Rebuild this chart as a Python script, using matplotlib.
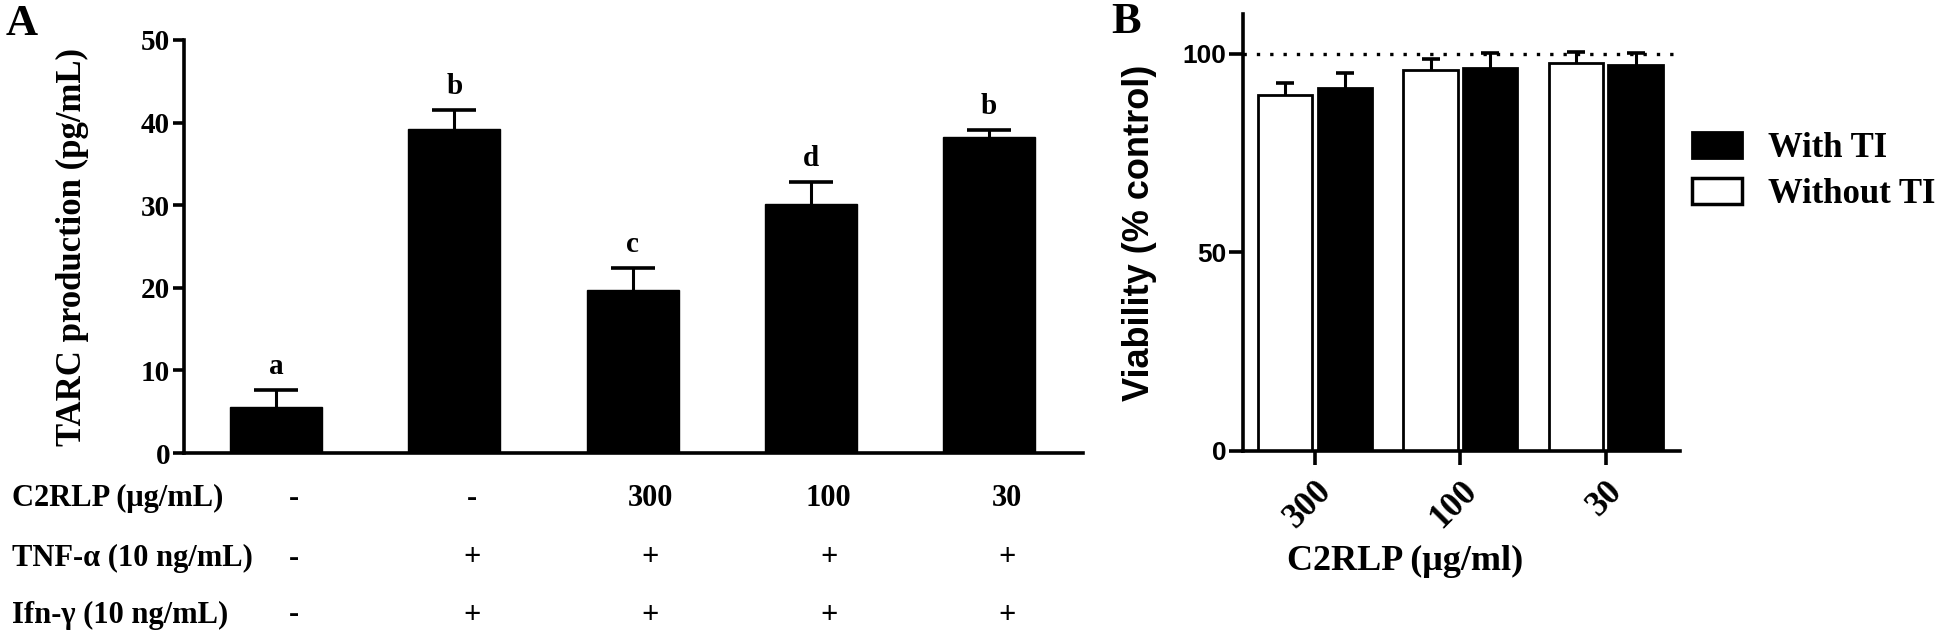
import numpy as np
import matplotlib
matplotlib.use("Agg")
import matplotlib.pyplot as plt
import matplotlib.transforms as mtransforms
from matplotlib.patches import Patch

# panel A data
tarc = [5.6, 39.2, 19.7, 30.2, 38.2]
tarc_err = [2.0, 2.3, 2.7, 2.6, 0.9]
letters = ['a', 'b', 'c', 'd', 'b']
c2rlp_row = ['-', '-', '300', '100', '30']
tnf_row = ['-', '+', '+', '+', '+']
ifn_row = ['-', '+', '+', '+', '+']
row_names = ['C2RLP (\u03bcg/mL)', 'TNF-\u03b1 (10 ng/mL)', 'Ifn-\u03b3 (10 ng/mL)']

# panel B data
conc = ['300', '100', '30']
without_ti = [89.7, 96.0, 97.7]
without_err = [3.0, 2.7, 2.8]
with_ti = [91.4, 96.5, 97.2]
with_err = [3.8, 3.8, 3.0]

serif = 'Liberation Serif'
sans = 'Liberation Sans'
plt.rcParams['font.family'] = [serif, 'DejaVu Serif']
plt.rcParams['font.weight'] = 'bold'

W, H = 1946, 639
fig = plt.figure(figsize=(W / 100, H / 100), dpi=100)


def upper_err(ax, xs, ys, errs, capsize):
    # only the upper half of the error bar, lower cap hidden
    eb = ax.errorbar(xs, ys, yerr=[np.zeros(len(ys)), errs], fmt='none',
                     ecolor='black', elinewidth=2.2, capsize=capsize,
                     capthick=2.6, zorder=1)
    eb[1][0].set_visible(False)


# ---------------- panel A ----------------
axA = fig.add_axes([184 / W, 1 - 453 / H, (1083 - 184) / W, (453 - 40) / H])
x = np.arange(len(tarc))
axA.bar(x, tarc, width=0.516, color='black', edgecolor='black', zorder=2)
upper_err(axA, x, tarc, tarc_err, 16)
for xi, v, e, lab in zip(x, tarc, tarc_err, letters):
    axA.text(xi, v + e + 2.9, lab, ha='center', va='center', fontsize=21,
             fontweight='bold')

axA.set_xlim(-0.516, 4.527)
axA.set_ylim(0, 50)
axA.set_yticks([0, 10, 20, 30, 40, 50])
axA.set_xticks([])
for s in ['top', 'right']:
    axA.spines[s].set_visible(False)
for s in ['left', 'bottom']:
    axA.spines[s].set_linewidth(2.6)
axA.tick_params(axis='y', width=2.6, length=8, labelsize=21, pad=2)
for t in axA.get_yticklabels():
    t.set_fontweight('bold')
axA.set_ylabel('TARC production (pg/mL)', fontsize=25, fontweight='bold')
axA.yaxis.set_label_coords(-0.106, 0.5)

# treatment table under panel A
trans = mtransforms.blended_transform_factory(axA.transData, fig.transFigure)
row_y = [1 - 498 / H, 1 - 558 / H, 1 - 615 / H]
for name, ry, row in zip(row_names, row_y, [c2rlp_row, tnf_row, ifn_row]):
    fig.text(12 / W, ry, name, ha='left', va='center', fontsize=22,
             fontweight='bold')
    for xi, val in zip(x, row):
        axA.text(xi + 0.1, ry, val, transform=trans, ha='center', va='center',
                 fontsize=22, fontweight='bold')

fig.text(6 / W, 1 - 24 / H, 'A', fontsize=32, fontweight='bold', va='center')

# ---------------- panel B ----------------
axB = fig.add_axes([1243 / W, 1 - 451 / H, (1680 - 1243) / W, (451 - 14) / H])
xb = np.arange(len(conc))
bw = 0.375
off = 0.205
axB.bar(xb - off, without_ti, width=bw, color='white', edgecolor='black',
        linewidth=2.0, zorder=2)
axB.bar(xb + off, with_ti, width=bw, color='black', edgecolor='black',
        linewidth=2.0, zorder=2)
upper_err(axB, xb - off, without_ti, without_err, 6.5)
upper_err(axB, xb + off, with_ti, with_err, 6.5)
axB.axhline(100, xmin=0, xmax=0.99, color='black', linewidth=2.4,
            linestyle=(0, (1, 3)), zorder=0)

axB.set_xlim(-0.495, 2.51)
axB.set_ylim(0, 110)
axB.set_yticks([0, 50, 100])
axB.set_xticks(xb)
axB.set_xticklabels(conc, rotation=45, ha='right', rotation_mode='anchor',
                    fontsize=25, fontweight='bold')
for s in ['top', 'right']:
    axB.spines[s].set_visible(False)
for s in ['left', 'bottom']:
    axB.spines[s].set_linewidth(2.6)
axB.tick_params(axis='both', width=2.6, length=10)
axB.tick_params(axis='x', pad=7)
axB.tick_params(axis='y', labelsize=19, pad=2)
for t in axB.get_yticklabels():
    t.set_fontfamily(sans)
    t.set_fontweight('bold')
axB.set_ylabel('Viability (% control)', fontsize=26, fontweight='bold',
               family=sans)
axB.yaxis.set_label_coords(-0.197, 0.5)
axB.set_xlabel('C2RLP (\u03bcg/ml)', fontsize=26, fontweight='bold')
axB.xaxis.set_label_coords(0.37, -0.215)

handles = [Patch(facecolor='black', edgecolor='black', linewidth=2),
           Patch(facecolor='white', edgecolor='black', linewidth=2.5)]
fig.legend(handles, ['With TI', 'Without TI'], loc='upper left',
           bbox_to_anchor=(1692 / W, 1 - 132 / H), frameon=False,
           prop={'family': serif, 'weight': 'bold', 'size': 25},
           handlelength=1.44, handleheight=0.75, labelspacing=0.38,
           handletextpad=0.75, borderpad=0, borderaxespad=0)

fig.text(1111 / W, 1 - 22 / H, 'B', fontsize=32, fontweight='bold', va='center')

fig.savefig('out.png', dpi=100)
